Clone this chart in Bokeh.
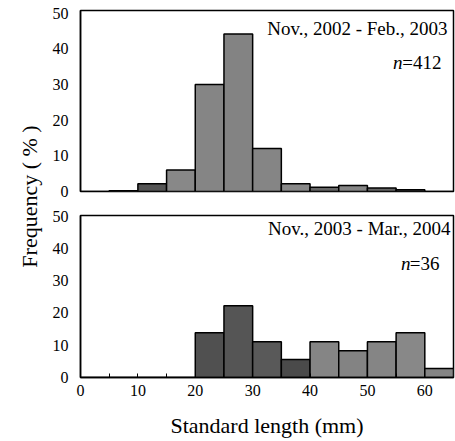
import math
from bokeh.plotting import figure
from bokeh.layouts import row, column
from bokeh.models import Range1d, Label, ColumnDataSource, FixedTicker
from bokeh.embed import file_html
from bokeh.resources import INLINE

# ---- data ----
bin_left = [0, 5, 10, 15, 20, 25, 30, 35, 40, 45, 50, 55, 60]
bin_width = 5
top_pct = [0, 0.2, 2.2, 6.0, 30.0, 44.2, 12.1, 2.2, 1.2, 1.7, 1.0, 0.5, 0]
bottom_pct = [0, 0, 0, 0, 13.9, 22.2, 11.1, 5.6, 11.1, 8.3, 11.1, 13.9, 2.8]
top_colors = ["#858585", "#858585", "#555555", "#888888", "#858585", "#838383", "#858585",
              "#888888", "#666666", "#858585", "#666666", "#666666", "#858585"]
bottom_colors = ["#505050", "#505050", "#505050", "#505050", "#505050", "#555555", "#595959",
                 "#4a4a4a", "#858585", "#838383", "#858585", "#888888", "#858585"]
x_ticks = [0, 10, 20, 30, 40, 50, 60]
y_ticks = [0, 10, 20, 30, 40, 50]
top_title = "Nov., 2002 - Feb., 2003"
top_n = "=412"
bottom_title = "Nov., 2003 - Mar., 2004"
bottom_n = "=36"

FONT = "Liberation Serif"


def make_source(vals, colors):
    return ColumnDataSource(dict(
        left=bin_left,
        right=[b + bin_width for b in bin_left],
        top=vals,
        bottom=[0] * len(vals),
        color=colors,
    ))


def style(p):
    p.xgrid.visible = False
    p.ygrid.visible = False
    p.outline_line_color = "black"
    p.outline_line_width = 1.5
    p.yaxis.ticker = FixedTicker(ticks=y_ticks)
    p.yaxis.major_tick_in = 0
    p.yaxis.major_tick_out = 0
    p.yaxis.minor_tick_in = 0
    p.yaxis.minor_tick_out = 0
    p.yaxis.major_label_standoff = 12
    p.yaxis.major_label_text_font = FONT
    p.yaxis.major_label_text_font_size = "16px"
    p.yaxis.major_label_text_color = "black"
    p.yaxis.axis_line_color = "black"
    p.yaxis.axis_line_width = 1.5


# ---- top panel ----
top = figure(width=407, height=203, x_range=Range1d(0, 65), y_range=Range1d(0, 50.8),
             output_backend="svg", toolbar_location=None,
             min_border_left=32, min_border_right=2, min_border_top=10, min_border_bottom=12)
top.quad(left="left", right="right", top="top", bottom="bottom", source=make_source(top_pct, top_colors),
         fill_color="color", line_color="black", line_width=1.5)
style(top)
top.xaxis.visible = False
top.add_layout(Label(x=65, y=45.8, x_offset=-6, text=top_title, text_align="right",
                     text_baseline="middle", text_font=FONT, text_font_size="19px", text_color="black"))
top.add_layout(Label(x=65, y=36.2, x_offset=-12, text=top_n, text_align="right",
                     text_baseline="middle", text_font=FONT, text_font_size="19px", text_color="black"))
top.add_layout(Label(x=65, y=36.2, x_offset=-12 - 39, text="n", text_align="right",
                     text_baseline="middle", text_font=FONT, text_font_style="italic",
                     text_font_size="19px", text_color="black"))

# ---- bottom panel ----
bot = figure(width=407, height=237, x_range=top.x_range, y_range=Range1d(0, 50.2),
             output_backend="svg", toolbar_location=None,
             min_border_left=32, min_border_right=2, min_border_top=12, min_border_bottom=63)
bot.quad(left="left", right="right", top="top", bottom="bottom", source=make_source(bottom_pct, bottom_colors),
         fill_color="color", line_color="black", line_width=1.5)
style(bot)
bot.xaxis.ticker = FixedTicker(ticks=x_ticks, minor_ticks=[5, 15, 25, 35, 45, 55])
bot.xaxis.major_tick_in = 4
bot.xaxis.major_tick_out = 0
bot.xaxis.minor_tick_in = 4
bot.xaxis.minor_tick_out = 0
bot.xaxis.axis_line_color = "black"
bot.xaxis.axis_line_width = 1.5
bot.xaxis.major_label_text_font = FONT
bot.xaxis.major_label_text_color = "black"
bot.xaxis.major_label_text_font_size = "16px"
bot.xaxis.major_label_standoff = 7
bot.xaxis.axis_label = "Standard length (mm)"
bot.xaxis.axis_label_text_font = FONT
bot.xaxis.axis_label_text_font_size = "22px"
bot.xaxis.axis_label_text_font_style = "normal"
bot.xaxis.axis_label_text_color = "black"
bot.xaxis.axis_label_standoff = 14
bot.add_layout(Label(x=65, y=46.1, x_offset=-3, text=bottom_title, text_align="right",
                     text_baseline="middle", text_font=FONT, text_font_size="19px", text_color="black"))
bot.add_layout(Label(x=65, y=35.3, x_offset=-14, text=bottom_n, text_align="right",
                     text_baseline="middle", text_font=FONT, text_font_size="19px", text_color="black"))
bot.add_layout(Label(x=65, y=35.3, x_offset=-14 - 29, text="n", text_align="right",
                     text_baseline="middle", text_font=FONT, text_font_style="italic",
                     text_font_size="19px", text_color="black"))

# ---- shared y-axis title ----
lab = figure(width=48, height=440, x_range=Range1d(0, 1), y_range=Range1d(0, 1),
             output_backend="svg", toolbar_location=None,
             min_border_left=0, min_border_right=0, min_border_top=0, min_border_bottom=0)
lab.xaxis.visible = False
lab.yaxis.visible = False
lab.xgrid.visible = False
lab.ygrid.visible = False
lab.outline_line_color = None
lab.add_layout(Label(x=29, y=440 - 196, x_units="screen", y_units="screen", angle=math.pi / 2,
                     text="Frequency ( % )", text_align="center", text_baseline="middle",
                     text_font=FONT, text_font_size="22px", text_color="black"))

layout = row(lab, column(top, bot))
open("out.html", "w").write(file_html(layout, INLINE))
